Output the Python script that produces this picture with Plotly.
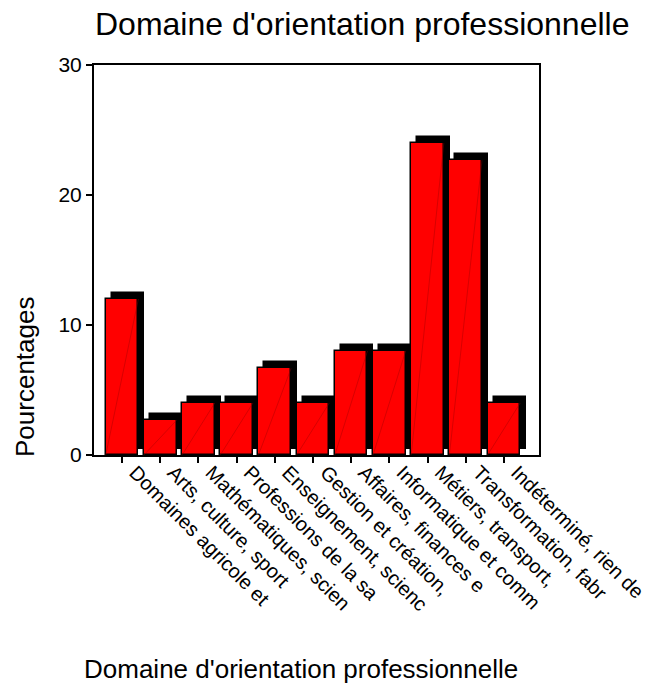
import plotly.graph_objects as go

# ---- data ----
categories = [
    "Domaines agricole et",
    "Arts, culture, sport",
    "Mathématiques, scien",
    "Professions de la sa",
    "Enseignement, scienc",
    "Gestion et création,",
    "Affaires, finances e",
    "Informatique et comm",
    "Métiers, transport,",
    "Transformation, fabr",
    "Indéterminé, rien de",
]
percentages = [12.0, 2.67, 4.0, 4.0, 6.67, 4.0, 8.0, 8.0, 24.0, 22.67, 4.0]
y_tick_values = [0, 10, 20, 30]
chart_title = "Domaine d'orientation professionnelle"
x_title = "Domaine d'orientation professionnelle"
y_title = "Pourcentages"

# ---- style ----
FONT = "Liberation Sans, Arial, sans-serif"
BAR_W = 0.855
SH_DX = 0.157   # shadow shift (x, category units)
SH_DY = 0.46    # shadow shift (y, data units)

W, H = 648, 687
PL, PR, PT, PB = 94, 539, 65, 455  # plot area (px)


def px_to_paper(px, py):
    return (px - PL) / (PR - PL), (PB - py) / (PB - PT)


pos = list(range(len(categories)))

fig = go.Figure()

# depth shadow
fig.add_trace(go.Bar(
    x=pos, y=percentages, base=[SH_DY] * len(pos),
    width=BAR_W, offset=-BAR_W / 2 + SH_DX,
    marker=dict(color="black", line=dict(color="black", width=1.5)),
    hoverinfo="skip",
))
# main bars
fig.add_trace(go.Bar(
    x=pos, y=percentages,
    width=BAR_W, offset=-BAR_W / 2,
    marker=dict(color="#ff0000", line=dict(color="black", width=1.5)),
))
# faint diagonal inside each bar
dx, dy = [], []
for p, v in zip(pos, percentages):
    dx += [p - BAR_W / 2, p + BAR_W / 2, None]
    dy += [0, v, None]
fig.add_trace(go.Scatter(
    x=dx, y=dy, mode="lines",
    line=dict(color="rgba(150,0,0,0.55)", width=0.7),
    hoverinfo="skip",
))

fig.update_layout(
    width=W, height=H, autosize=False,
    margin=dict(l=PL, r=W - PR, t=PT, b=H - PB, pad=0, autoexpand=False),
    plot_bgcolor="white", paper_bgcolor="white",
    barmode="overlay", bargap=0, showlegend=False,
    font=dict(family=FONT, color="black"),
)

fig.update_xaxes(
    range=[-0.735, 10.92], automargin=False,
    tickmode="array", tickvals=pos, ticktext=categories,
    tickangle=45, ticks="outside", ticklen=6, tickwidth=1.5, tickcolor="black",
    ticklabelshift=13, ticklabelstandoff=-10, ticklabeloverflow="allow",
    showline=True, linecolor="black", linewidth=2, mirror=True,
    showgrid=False, zeroline=False,
    tickfont=dict(size=20, family=FONT, color="black"),
)
fig.update_yaxes(
    range=[0, 30], automargin=False,
    tickmode="array", tickvals=y_tick_values,
    ticks="outside", ticklen=6, tickwidth=1.5, tickcolor="black",
    showline=True, linecolor="black", linewidth=2, mirror=True,
    showgrid=False, zeroline=False,
    tickfont=dict(size=21, family=FONT, color="black"),
)

annots = []
tx, ty = px_to_paper(362, 24)
annots.append(dict(text=chart_title, x=tx, y=ty, xref="paper", yref="paper",
                   xanchor="center", yanchor="middle", showarrow=False,
                   font=dict(size=32, family=FONT, color="black")))
ax, ay = px_to_paper(300.5, 668.7)
annots.append(dict(text=x_title, x=ax, y=ay, xref="paper", yref="paper",
                   xanchor="center", yanchor="middle", showarrow=False,
                   font=dict(size=26, family=FONT, color="black")))
yx, yy = px_to_paper(25, 377)
annots.append(dict(text=y_title, x=yx, y=yy, xref="paper", yref="paper",
                   xanchor="center", yanchor="middle", showarrow=False,
                   textangle=-90,
                   font=dict(size=26, family=FONT, color="black")))
fig.update_layout(annotations=annots)

fig.write_html(
    "out.html",
    config={"displayModeBar": False},
    post_script="document.documentElement.style.margin='0';"
                "document.body.style.margin='0';"
                "document.body.style.overflow='hidden';",
)
